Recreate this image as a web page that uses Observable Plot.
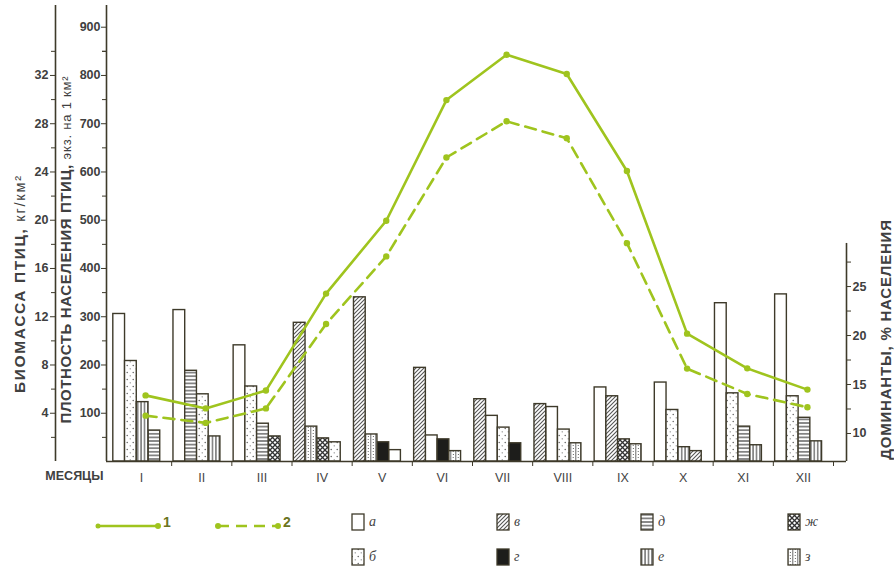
<!DOCTYPE html>
<html><head><meta charset="utf-8">
<script src="https://cdn.jsdelivr.net/npm/d3@7"></script>
<script src="https://cdn.jsdelivr.net/npm/@observablehq/plot@0.6"></script>
<style>
body{margin:0;background:#fff;font-family:"Liberation Sans",Arial,sans-serif;}
#wrap{position:relative;width:894px;height:576px;overflow:hidden;}
#legend{position:relative;width:894px;height:76px;}
.lg{position:absolute;}
.lab{position:absolute;font-family:"Liberation Serif","DejaVu Serif",serif;font-style:italic;font-size:14px;color:#444;line-height:16px;}
.num{position:absolute;font-weight:bold;font-size:14px;color:#6b7420;line-height:16px;}
</style></head><body>
<svg width="0" height="0" style="position:absolute">
  <defs>
    <pattern id="p-a" patternUnits="userSpaceOnUse" width="4" height="4"><rect width="4" height="4" fill="#fff"/></pattern>
    <pattern id="p-b" patternUnits="userSpaceOnUse" width="6" height="7">
      <rect width="6" height="7" fill="#fff"/>
      <circle cx="1.2" cy="1.5" r="0.7" fill="#555"/><circle cx="4.2" cy="4.8" r="0.6" fill="#666"/>
    </pattern>
    <pattern id="p-v" patternUnits="userSpaceOnUse" width="4" height="4">
      <rect width="4" height="4" fill="#fff"/>
      <path d="M-1,1 L1,-1 M0,4 L4,0 M3,5 L5,3" stroke="#555" stroke-width="1.1"/>
    </pattern>
    <pattern id="p-g" patternUnits="userSpaceOnUse" width="4" height="4"><rect width="4" height="4" fill="#1d1d1b"/></pattern>
    <pattern id="p-d" patternUnits="userSpaceOnUse" width="4" height="3.6">
      <rect width="4" height="3.6" fill="#fff"/><path d="M0,1.8 H4" stroke="#444" stroke-width="1.2"/>
    </pattern>
    <pattern id="p-e" patternUnits="userSpaceOnUse" width="3.4" height="4">
      <rect width="3.4" height="4" fill="#fff"/><path d="M1.7,0 V4" stroke="#444" stroke-width="1.1"/>
    </pattern>
    <pattern id="p-zh" patternUnits="userSpaceOnUse" width="5" height="5">
      <rect width="5" height="5" fill="#fff"/>
      <path d="M0,0 L5,5 M5,0 L0,5" stroke="#333" stroke-width="1.3"/>
    </pattern>
    <pattern id="p-z" patternUnits="userSpaceOnUse" width="5" height="6">
      <rect width="5" height="6" fill="#fff"/>
      <path d="M0.8,0 V6" stroke="#555" stroke-width="0.9"/>
      <circle cx="3.2" cy="1.5" r="0.6" fill="#555"/><circle cx="3.4" cy="4.5" r="0.6" fill="#555"/>
    </pattern>
  </defs>
</svg>
<div id="wrap"><div id="chart"></div><div id="legend"></div></div>
<script>
// ---- data ----
const months = ["I","II","III","IV","V","VI","VII","VIII","IX","X","XI","XII"];
// 1: плотность населения, экз. на 1 км²
const density = [137,110,147,348,499,749,843,803,602,265,193,149];
// 2: биомасса, кг/км²
const biomass = [3.8,3.2,4.4,11.4,17.0,25.2,28.2,26.8,18.1,7.7,5.6,4.5];
// доминанты: категории и доли (% населения) по месяцам
const barCats = [
  ["а","б","е","д"],["а","д","б","е"],["а","б","д","ж"],["в","з","ж","б"],
  ["в","з","г","а"],["в","а","г","з"],["в","а","б","г"],["в","а","б","з"],
  ["а","в","ж","з"],["а","б","е","в"],["а","б","д","е"],["а","б","д","е"]
];
const barVals = [
  [22.2,17.4,13.2,10.3],[22.6,16.4,14.0,9.7],[19.0,14.8,11.0,9.7],[21.3,10.7,9.5,9.1],
  [23.9,9.9,9.1,8.3],[16.7,9.8,9.4,8.2],[13.5,11.8,10.6,9.0],[13.0,12.7,10.4,9.0],
  [14.7,13.8,9.4,8.9],[15.2,12.4,8.6,8.2],[23.3,14.1,10.7,8.8],[24.2,13.8,11.6,9.2]
];
const densTicks = [100,200,300,400,500,600,700,800,900];
const bioTicks = [4,8,12,16,20,24,28,32];
const domTicks = [10,15,20,25];
const legendCats = [["а","б"],["в","г"],["д","е"],["ж","з"]];

// ---- helpers ----
const patId = {"а":"p-a","б":"p-b","в":"p-v","г":"p-g","д":"p-d","е":"p-e","ж":"p-zh","з":"p-z"};
const BIO_K = 25;              // 1 кг/км² ↔ 25 экз./км² on the left axes
const DOM0 = 7.14, DOM_K = 20.3; // % axis mapped into density units
const domToY = p => (p - DOM0) * DOM_K;
const yToDom = y => y / DOM_K + DOM0;

const rows = [];
barCats.forEach((cats, i) => cats.forEach((c, k) => rows.push({i, k, cat: c, pct: barVals[i][k]})));
const pts = months.map((m, i) => ({i, d: density[i], b: biomass[i] * BIO_K}));

const green = "#9fc41e";
const ink = "#3e3a2a";
const BW = 0.195, B0 = 0.03;

const barMarks = Object.keys(patId).map(c => Plot.rectY(rows.filter(r => r.cat === c), {
  x1: r => r.i + B0 + BW * r.k, x2: r => r.i + B0 + BW * (r.k + 1),
  y1: 0, y2: r => domToY(r.pct),
  fill: `url(#${patId[c]})`, stroke: ink, strokeWidth: 1.4
}));

const font = {fontSize: 12.5, fontWeight: "bold", fill: "#404040"};
const titleStyle = {rotate: -90, textAnchor: "middle", fontSize: 15, fontWeight: "bold", fill: "#404040"};

const chart = Plot.plot({
  width: 894, height: 500,
  marginLeft: 111, marginRight: 61, marginTop: 5, marginBottom: 39,
  style: {fontFamily: "Liberation Sans, Arial, sans-serif", color: "#404040", background: "#fff", overflow: "visible"},
  x: {type: "linear", domain: [0, 12], axis: null},
  y: {domain: [0, 945], axis: null},
  marks: [
    ...barMarks,
    // axis lines
    Plot.ruleX([0], {dx: -5, stroke: ink, strokeWidth: 1.6}),
    Plot.ruleX([0], {dx: -56, stroke: ink, strokeWidth: 1.6}),
    Plot.ruleX([12], {dx: 13, y1: 0, y2: domToY(29.4), stroke: ink, strokeWidth: 1.6}),
    Plot.ruleY([0], {insetLeft: -5, insetRight: -13, stroke: ink, strokeWidth: 1.6}),
    // inner (density) axis
    Plot.axisY(densTicks, {anchor: "left", dx: -5, tickSize: 5, tickPadding: 1, label: null, stroke: ink, ...font}),
    Plot.axisY(densTicks.map(d => d - 50).concat([850]), {anchor: "left", dx: -5, tickSize: 4, tickFormat: () => "", label: null, stroke: ink}),
    // outer (biomass) axis
    Plot.axisY(bioTicks.map(b => b * BIO_K), {anchor: "left", dx: -56, tickSize: 5, tickPadding: 2, tickFormat: d => d / BIO_K, label: null, stroke: ink, ...font}),
    Plot.axisY(bioTicks.map(b => (b - 2) * BIO_K).concat([34 * BIO_K]), {anchor: "left", dx: -56, tickSize: 4, tickFormat: () => "", label: null, stroke: ink}),
    // right (dominants) axis
    Plot.axisY(domTicks.map(domToY), {anchor: "right", dx: 13, tickSize: 4, tickPadding: 2, tickFormat: d => Math.round(yToDom(d)), label: null, stroke: ink, ...font}),
    Plot.axisY(domTicks.map(p => domToY(p + 2.5)), {anchor: "right", dx: 13, tickSize: 4, tickFormat: () => "", label: null, stroke: ink}),
    // x axis
    Plot.axisX(d3.range(1, 13), {tickSize: 5, tickFormat: () => "", label: null, stroke: ink}),
    Plot.axisX(d3.range(12).map(i => i + 0.5), {tickSize: 0, tickPadding: 12, tickFormat: d => months[Math.floor(d)], label: null, fontSize: 12.5, fill: "#444"}),
    Plot.text(["МЕСЯЦЫ"], {frameAnchor: "bottom-left", dx: -8, dy: 18, textAnchor: "end", fontSize: 12.5, fontWeight: "bold", fill: "#404040"}),
    // axis titles
    Plot.text(["БИОМАССА ПТИЦ, кг/км²"], {frameAnchor: "left", dx: -91, dy: 50, ...titleStyle, fontSize: 15.5, className: "t-bio"}),
    Plot.text(["ПЛОТНОСТЬ НАСЕЛЕНИЯ ПТИЦ, экз. на 1 км²"], {frameAnchor: "left", dx: -45, dy: 16, ...titleStyle, className: "t-den"}),
    Plot.text(["ДОМИНАНТЫ, % НАСЕЛЕНИЯ"], {frameAnchor: "right", dx: 53, dy: 106, ...titleStyle, className: "t-dom"}),
    // lines
    Plot.line(pts, {x: d => d.i + 0.5, y: "d", dx: 4, stroke: green, strokeWidth: 2.6}),
    Plot.dot(pts, {x: d => d.i + 0.5, y: "d", dx: 4, r: 3.2, fill: green}),
    Plot.line(pts, {x: d => d.i + 0.5, y: "b", dx: 4, stroke: green, strokeWidth: 2.6, strokeDasharray: "11,7"}),
    Plot.dot(pts, {x: d => d.i + 0.5, y: "b", dx: 4, r: 3.2, fill: green})
  ]
});
document.getElementById("chart").appendChild(chart);

// mixed-size axis titles
function splitTitle(cls, big, small, sp, smallSize) {
  const t = d3.select(chart).select(`g.${cls} text`);
  if (t.empty()) return;
  t.text(null);
  t.append("tspan").attr("letter-spacing", sp).text(big);
  t.append("tspan").attr("font-size", smallSize).attr("font-weight", "normal").attr("letter-spacing", sp + 0.2).text(small);
}
splitTitle("t-bio", "БИОМАССА ПТИЦ, ", "кг/км²", 1.6, 14.5);
splitTitle("t-den", "ПЛОТНОСТЬ НАСЕЛЕНИЯ ПТИЦ, ", "экз. на 1 км²", 0.6, 13);
d3.select(chart).select("g.t-dom text").attr("letter-spacing", 0.8);

// legend
const lg = document.getElementById("legend");
function add(html, left, top, cls) {
  const d = document.createElement("div");
  d.className = cls || "lg"; d.style.left = left + "px"; d.style.top = top + "px";
  d.innerHTML = html; lg.appendChild(d);
}
add(`<svg width="70" height="10"><line x1="3" y1="5" x2="64" y2="5" stroke="${green}" stroke-width="2.6"/><circle cx="64" cy="5" r="3" fill="${green}"/><circle cx="4" cy="5" r="2.5" fill="${green}"/></svg>`, 94, 17);
add("1", 163, 14, "num");
add(`<svg width="70" height="10"><line x1="4" y1="5" x2="64" y2="5" stroke="${green}" stroke-width="2.6" stroke-dasharray="11,7"/><circle cx="4" cy="5" r="3" fill="${green}"/><circle cx="64" cy="5" r="3" fill="${green}"/></svg>`, 214, 17);
add("2", 283, 14, "num");
const lgX = [351, 496, 640, 787];
legendCats.forEach((pair, col) => pair.forEach((c, row) => {
  const top = row === 0 ? 13 : 48;
  add(`<svg width="14" height="18"><rect x="1" y="1" width="12" height="16" fill="url(#${patId[c]})" stroke="${ink}" stroke-width="1.3"/></svg>`, lgX[col], top);
  add(c, lgX[col] + 18, top + 1, "lab");
}));
</script>
</body></html>
